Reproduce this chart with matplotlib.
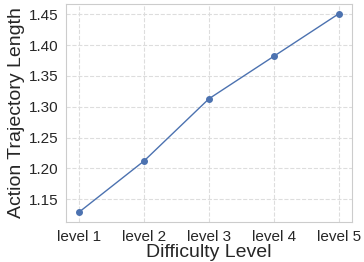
import matplotlib
matplotlib.use("Agg")
import matplotlib.pyplot as plt
import seaborn as sns

# Données
niveaux = ["level 1", "level 2", "level 3", "level 4", "level 5"]
longueurs = [1.129, 1.212, 1.313, 1.382, 1.451]

sns.set_style("whitegrid", {"grid.linestyle": "--", "axes.edgecolor": "#cccccc"})
plt.rcParams['font.family'] = ['Liberation Sans', 'DejaVu Sans']

fig, ax = plt.subplots(figsize=(3.64, 2.62), dpi=100)
ax.plot(niveaux, longueurs, marker="o", color="#4C72B0", linewidth=1.0, markersize=4)

ax.set_xlabel("Difficulty Level", fontsize=14, labelpad=0)
ax.set_ylabel("Action Trajectory Length", fontsize=14, labelpad=3)
ax.tick_params(axis="both", labelsize=11, pad=2)
ax.set_yticks([1.15, 1.20, 1.25, 1.30, 1.35, 1.40, 1.45])
ax.grid(True, linestyle="--", color="#dddddd", linewidth=0.8)

fig.subplots_adjust(left=0.182, right=0.966, top=0.985, bottom=0.153)
fig.savefig("out.png", dpi=100)
